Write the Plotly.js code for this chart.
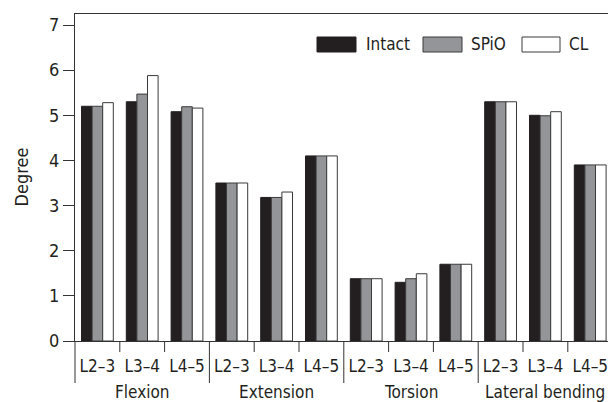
<!DOCTYPE html>
<html>
<head>
<meta charset="utf-8">
<script src="https://cdn.plot.ly/plotly-3.0.1.min.js"></script>
<style>html,body{margin:0;padding:0;background:#fff;}#chart{width:608px;height:402px;}</style>
</head>
<body>
<div id="chart"></div>
<script>
const levels = ["L2–3","L3–4","L4–5","L2–3","L3–4","L4–5","L2–3","L3–4","L4–5","L2–3","L3–4","L4–5"];
const groups = ["Flexion","Extension","Torsion","Lateral bending"];
const seriesNames = ["Intact","SPiO","CL"];
const intact = [5.2,5.3,5.08, 3.5,3.18,4.1, 1.38,1.3,1.7, 5.3,5.0,3.9];
const spio   = [5.2,5.47,5.19, 3.5,3.18,4.1, 1.38,1.38,1.7, 5.3,4.99,3.9];
const cl     = [5.28,5.88,5.16, 3.5,3.3,4.1, 1.38,1.49,1.7, 5.3,5.08,3.9];
const yTicks = [0,1,2,3,4,5,6,7];
const yTitle = "Degree";

const FONT = "DejaVu Sans Condensed, Liberation Sans, sans-serif";
const TXT = "#231f20";
const fills = ["#231f20","#939598","#ffffff"];
const xs = levels.map((_, i) => i);

const L = 75, R = 608, T = 14, B = 341;
const px2x = p => (p - L) / (R - L);
const py2y = p => (B - p) / (B - T);

const traces = [intact, spio, cl].map((vals, k) => ({
  type: "bar", x: xs, y: vals, name: seriesNames[k], showlegend: false,
  marker: {color: fills[k], line: {color: k === 0 ? "#231f20" : "#3a3a3a", width: 1}},
  hoverinfo: "y"
}));

const shapes = [];
const annotations = [];
const perGroup = levels.length / groups.length;
for (let i = 1; i < levels.length; i++) {
  const b = i - 0.5;
  const isGroup = i % perGroup === 0;
  shapes.push({type: "line", xref: "x", yref: "paper", x0: b, x1: b, y0: 0,
    y1: isGroup ? py2y(383) : py2y(352), line: {color: "#333", width: 1}});
}
shapes.push({type: "line", xref: "paper", yref: "paper", x0: 0, x1: 0, y0: 0, y1: py2y(383), line: {color: "#333", width: 1}});
groups.forEach((g, gi) => {
  annotations.push({xref: "x", yref: "paper", x: gi * perGroup + (perGroup - 1) / 2, y: py2y(391.5),
    text: g, showarrow: false, yanchor: "middle", xanchor: "center",
    font: {family: FONT, size: 17, color: TXT}});
});
annotations.push({xref: "paper", yref: "paper", x: px2x(21), y: py2y(177.5), text: yTitle, textangle: -90,
  showarrow: false, xanchor: "center", yanchor: "middle", font: {family: FONT, size: 18, color: TXT}});
// custom legend
const legendPos = [[317, 356, 364], [423, 462, 469], [522, 560, 567]];
seriesNames.forEach((n, k) => {
  const [a, b, t] = legendPos[k];
  shapes.push({type: "rect", xref: "paper", yref: "paper", x0: px2x(a), x1: px2x(b), y0: py2y(52), y1: py2y(37),
    fillcolor: fills[k], line: {color: k === 0 ? "#231f20" : "#3a3a3a", width: 1}});
  annotations.push({xref: "paper", yref: "paper", x: px2x(t), y: py2y(44.5), text: n, showarrow: false,
    xanchor: "left", yanchor: "middle", font: {family: FONT, size: 17, color: TXT}});
});

const layout = {
  width: 608, height: 402,
  margin: {l: L, r: 608 - R, t: T, b: 402 - B, pad: 0},
  paper_bgcolor: "#fff", plot_bgcolor: "#fff",
  barmode: "group", bargap: 0.29, bargroupgap: 0,
  font: {family: FONT, color: TXT},
  xaxis: {
    range: [-0.5, -0.5 + (R - L) / 44.8],
    tickmode: "array", tickvals: xs, ticktext: levels, ticks: "",
    tickfont: {family: FONT, size: 17, color: TXT},
    ticklabeloverflow: "allow", ticklabelstandoff: 10,
    showline: true, linecolor: "#333", linewidth: 1, mirror: true,
    showgrid: false, zeroline: false, fixedrange: true
  },
  yaxis: {
    range: [0, (B - T) / 45.14],
    tickmode: "array", tickvals: yTicks, ticks: "outside", ticklen: 11, tickcolor: "#333",
    tickfont: {family: FONT, size: 18, color: TXT},
    showline: true, linecolor: "#333", linewidth: 1,
    showgrid: false, zeroline: false
  },
  shapes: shapes,
  annotations: annotations
};
Plotly.newPlot("chart", traces, layout, {displayModeBar: false, staticPlot: true});
</script>
</body>
</html>
